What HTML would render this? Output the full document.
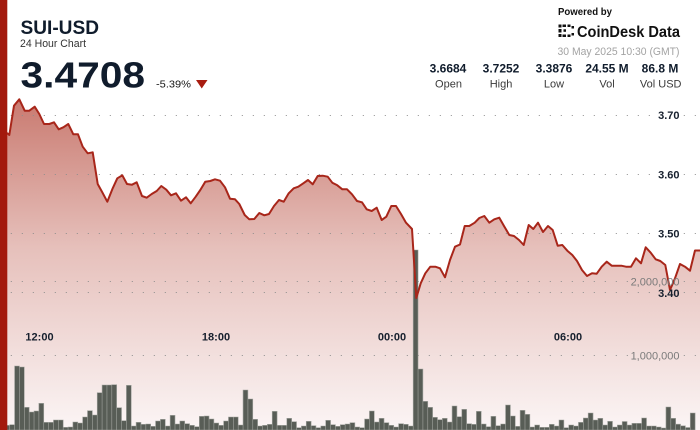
<!DOCTYPE html>
<html>
<head>
<meta charset="utf-8">
<style>
html,body{margin:0;padding:0;background:#fff;}
body{width:700px;height:430px;overflow:hidden;}
svg{display:block;font-family:"Liberation Sans",sans-serif;}
</style>
</head>
<body>
<svg width="700" height="430" viewBox="0 0 700 430" xmlns="http://www.w3.org/2000/svg">
<defs>
<linearGradient id="g" gradientUnits="userSpaceOnUse" x1="0" y1="99" x2="0" y2="430">
<stop offset="0" stop-color="#c97a70"/>
<stop offset="0.45" stop-color="#e6c0bb"/>
<stop offset="1" stop-color="#fbf5f5"/>
</linearGradient>
</defs>
<rect width="700" height="430" fill="#fff"/>

<path fill="url(#g)" d="M0,430 L0,132 L7.3,133.3 L9.3,135 L14,105.7 L19.3,99.3 L24.7,110.7 L29.3,110.7 L34.7,106.7 L39.3,114 L44,124 L49.3,124 L54,122.3 L58.7,129.3 L63.3,127.3 L68.3,124 L73.3,134.3 L78,134.3 L82.7,146.7 L87.7,153.3 L92.7,152.3 L97.7,184 L102,191.7 L107.3,201.7 L112.7,188.3 L117.3,178.3 L122.3,175.3 L127,184 L132,184.7 L136.7,182.3 L142,196 L146.7,197.7 L151.7,194 L156.7,191 L161.3,186 L166.3,189.7 L171,195.3 L176,193.3 L181,200.7 L186,197.3 L190.7,203.3 L195.7,196.7 L200.3,190 L205.3,181.7 L210.3,181 L215,179.3 L220,180.7 L225,187.3 L230,198.7 L235,199.3 L239.3,204 L244.7,215 L249.3,219.3 L254.3,219 L259.3,213 L264.3,215.3 L269,214 L274,206 L279,200 L283.7,201.7 L288.7,193.3 L293.7,188.3 L298.3,186.7 L303.3,183.3 L308,180 L312.7,184.3 L317.7,176 L322.7,175.7 L327.7,176.7 L332.3,182.7 L337.3,185.3 L342.3,189.3 L347,189.3 L352,194.3 L357,201 L362,202.3 L366.7,209.3 L371.7,211 L376.7,207.7 L381.7,220 L386.3,216.7 L391.3,206 L396,206 L401,214 L406,222.7 L412,229 L416.3,298 L420.7,283.3 L425.3,273.3 L430.3,266.7 L435.3,266.7 L440,268.3 L445,277.3 L450,260 L455,246.7 L460,244.5 L464.7,226 L469.3,226 L474.7,222.7 L479.3,218 L484.3,216 L489.3,222.7 L494.3,219.3 L499.3,217.7 L504,226 L509.3,235 L514,236 L519,240 L523.7,245 L528.7,225 L533.3,229 L538,222.7 L543,232 L548,226 L552.7,230 L557.7,245.7 L562.3,245 L567.3,250.7 L572.3,255 L577,261 L582,270 L587,276 L592,273.3 L596.7,273.7 L601.7,266.7 L606.7,261.7 L611.7,265.7 L616.3,265.7 L621.3,265.7 L626,266.7 L631,266.7 L636,258.3 L641,263.3 L645.7,247.3 L650.7,252.7 L655.7,259.3 L660.3,261 L665.3,265 L670,290 L675,278.3 L680,264 L685,266.7 L690,270.7 L695,250.5 L702,250.5 L702,430 Z"/>

<g stroke="#8d8d8d" stroke-width="1" stroke-dasharray="1 10">
<line x1="10.8" y1="115.5" x2="655" y2="115.5"/>
<line x1="683.8" y1="115.5" x2="700" y2="115.5"/>
<line x1="10.8" y1="174.5" x2="655" y2="174.5"/>
<line x1="683.8" y1="174.5" x2="700" y2="174.5"/>
<line x1="10.8" y1="233.5" x2="655" y2="233.5"/>
<line x1="683.8" y1="233.5" x2="700" y2="233.5"/>
<line x1="10.8" y1="292.5" x2="655" y2="292.5"/>
<line x1="683.8" y1="292.5" x2="700" y2="292.5"/>
<line x1="10.8" y1="281.5" x2="628" y2="281.5"/>
<line x1="683.8" y1="281.5" x2="700" y2="281.5"/>
<line x1="10.8" y1="355.5" x2="628" y2="355.5"/>
<line x1="683.8" y1="355.5" x2="700" y2="355.5"/>
</g>

<path fill="#585d56" stroke="#a3a5a0" stroke-width="0.6" d="M4.861,430
v-4.7h4.861v4.7 v-5.3h4.861v5.3 v-64h4.861v64 v-63h4.861v63 v-22.7h4.861v22.7
v-18h4.861v18 v-19h4.861v19 v-26.7h4.861v26.7 v-7.7h4.861v7.7 v-7.7h4.861v7.7
v-10h4.861v10 v-10h4.861v10 v-2.7h4.861v2.7 v-3h4.861v3 v-8h4.861v8
v-7h4.861v7 v-13h4.861v13 v-19.3h4.861v19.3 v-15h4.861v15 v-37.3h4.861v37.3
v-45h4.861v45 v-45h4.861v45 v-45.3h4.861v45.3 v-22.3h4.861v22.3 v-9.3h4.861v9.3
v-44.7h4.861v44.7 v-4h4.861v4 v-7.7h4.861v7.7 v-5.7h4.861v5.7 v-6h4.861v6
v-3.7h4.861v3.7 v-9h4.861v9 v-10.7h4.861v10.7 v-4h4.861v4 v-14.7h4.861v14.7
v-6h4.861v6 v-9h4.861v9 v-6.3h4.861v6.3 v-4.7h4.861v4.7 v-3.3h4.861v3.3
v-13.7h4.861v13.7 v-14h4.861v14 v-11h4.861v11 v-7h4.861v7 v-4.7h4.861v4.7
v-9h4.861v9 v-13h4.861v13 v-13h4.861v13 v-5h4.861v5 v-40h4.861v40
v-31h4.861v31 v-10.7h4.861v10.7 v-4h4.861v4 v-4.7h4.861v4.7 v-5.7h4.861v5.7
v-18.7h4.861v18.7 v-4.7h4.861v4.7 v-4.7h4.861v4.7 v-11.7h4.861v11.7 v-8.3h4.861v8.3
v-2.3h4.861v2.3 v-4h4.861v4 v-8.7h4.861v8.7 v-4.3h4.861v4.3 v-2.3h4.861v2.3
v-4h4.861v4 v-9.7h4.861v9.7 v-5.3h4.861v5.3 v-3.7h4.861v3.7 v-5.3h4.861v5.3
v-6h4.861v6 v-7.3h4.861v7.3 v-3h4.861v3 v-2.3h4.861v2.3 v-11h4.861v11
v-19h4.861v19 v-8h4.861v8 v-11.7h4.861v11.7 v-7.3h4.861v7.3 v-4.7h4.861v4.7
v-3h4.861v3 v-6.3h4.861v6.3 v-5.7h4.861v5.7 v-4h4.861v4 v-180h4.861v180
v-61h4.861v61 v-28.7h4.861v28.7 v-22.7h4.861v22.7 v-12.7h4.861v12.7 v-10.3h4.861v10.3
v-11.7h4.861v11.7 v-8h4.861v8 v-24h4.861v24 v-13.3h4.861v13.3 v-20.7h4.861v20.7
v-6.3h4.861v6.3 v-5.7h4.861v5.7 v-18.7h4.861v18.7 v-6h4.861v6 v-3.3h4.861v3.3
v-13.7h4.861v13.7 v-4.3h4.861v4.3 v-6h4.861v6 v-25h4.861v25 v-14h4.861v14
v-3.7h4.861v3.7 v-19.7h4.861v19.7 v-15.7h4.861v15.7 v-3h4.861v3 v-5h4.861v5
v-2.7h4.861v2.7 v-2.7h4.861v2.7 v-5.7h4.861v5.7 v-4h4.861v4 v-10h4.861v10
v-2.3h4.861v2.3 v-5h4.861v5 v-4h4.861v4 v-7.7h4.861v7.7 v-12h4.861v12
v-17h4.861v17 v-10h4.861v10 v-11.7h4.861v11.7 v-5h4.861v5 v-8.7h4.861v8.7
v-3h4.861v3 v-5h4.861v5 v-8.5h4.861v8.5 v-5h4.861v5 v-6.7h4.861v6.7
v-6.7h4.861v6.7 v-12h4.861v12 v-4h4.861v4 v-4h4.861v4 v-3h4.861v3
v-2h4.861v2 v-23h4.861v23 v-11.7h4.861v11.7 v-5.8h4.861v5.8 v-4.2h4.861v4.2
v-2.5h4.861v2.5 v-17h4.861v17 Z"/>

<path fill="none" stroke="#a8261a" stroke-width="2" stroke-linejoin="round" d="M0,132 L7.3,133.3 L9.3,135 L14,105.7 L19.3,99.3 L24.7,110.7 L29.3,110.7 L34.7,106.7 L39.3,114 L44,124 L49.3,124 L54,122.3 L58.7,129.3 L63.3,127.3 L68.3,124 L73.3,134.3 L78,134.3 L82.7,146.7 L87.7,153.3 L92.7,152.3 L97.7,184 L102,191.7 L107.3,201.7 L112.7,188.3 L117.3,178.3 L122.3,175.3 L127,184 L132,184.7 L136.7,182.3 L142,196 L146.7,197.7 L151.7,194 L156.7,191 L161.3,186 L166.3,189.7 L171,195.3 L176,193.3 L181,200.7 L186,197.3 L190.7,203.3 L195.7,196.7 L200.3,190 L205.3,181.7 L210.3,181 L215,179.3 L220,180.7 L225,187.3 L230,198.7 L235,199.3 L239.3,204 L244.7,215 L249.3,219.3 L254.3,219 L259.3,213 L264.3,215.3 L269,214 L274,206 L279,200 L283.7,201.7 L288.7,193.3 L293.7,188.3 L298.3,186.7 L303.3,183.3 L308,180 L312.7,184.3 L317.7,176 L322.7,175.7 L327.7,176.7 L332.3,182.7 L337.3,185.3 L342.3,189.3 L347,189.3 L352,194.3 L357,201 L362,202.3 L366.7,209.3 L371.7,211 L376.7,207.7 L381.7,220 L386.3,216.7 L391.3,206 L396,206 L401,214 L406,222.7 L412,229 L416.3,298 L420.7,283.3 L425.3,273.3 L430.3,266.7 L435.3,266.7 L440,268.3 L445,277.3 L450,260 L455,246.7 L460,244.5 L464.7,226 L469.3,226 L474.7,222.7 L479.3,218 L484.3,216 L489.3,222.7 L494.3,219.3 L499.3,217.7 L504,226 L509.3,235 L514,236 L519,240 L523.7,245 L528.7,225 L533.3,229 L538,222.7 L543,232 L548,226 L552.7,230 L557.7,245.7 L562.3,245 L567.3,250.7 L572.3,255 L577,261 L582,270 L587,276 L592,273.3 L596.7,273.7 L601.7,266.7 L606.7,261.7 L611.7,265.7 L616.3,265.7 L621.3,265.7 L626,266.7 L631,266.7 L636,258.3 L641,263.3 L645.7,247.3 L650.7,252.7 L655.7,259.3 L660.3,261 L665.3,265 L670,290 L675,278.3 L680,264 L685,266.7 L690,270.7 L695,250.5 L702,250.5"/>

<rect x="0" y="0" width="7.3" height="430" fill="#a3190d"/>

<g font-size="11" font-weight="bold" fill="#17202e" text-anchor="end">
<text x="679.5" y="119">3.70</text>
<text x="679.5" y="178.5">3.60</text>
<text x="679.5" y="237.5">3.50</text>
<text x="679.5" y="297">3.40</text>
</g>
<g font-size="11" fill="#7a7a7a" text-anchor="end">
<text x="679.5" y="285.5">2,000,000</text>
<text x="679.5" y="359.5">1,000,000</text>
</g>
<g font-size="11" font-weight="bold" fill="#17202e" text-anchor="middle">
<text x="39.5" y="340.7">12:00</text>
<text x="216" y="340.7">18:00</text>
<text x="392" y="340.7">00:00</text>
<text x="568" y="340.7">06:00</text>
</g>

<text x="20.5" y="34" font-size="19.5" font-weight="bold" fill="#101c2c" textLength="78.5" lengthAdjust="spacingAndGlyphs">SUI-USD</text>
<text x="20" y="47" font-size="11" fill="#333" textLength="66" lengthAdjust="spacingAndGlyphs">24 Hour Chart</text>
<text x="20.5" y="87.3" font-size="36" font-weight="bold" fill="#101c2c" textLength="124.5" lengthAdjust="spacingAndGlyphs">3.4708</text>
<text x="156" y="87.5" font-size="10.5" fill="#151515" textLength="35" lengthAdjust="spacingAndGlyphs">-5.39%</text>
<polygon points="196,80 207.5,80 201.75,88.5" fill="#a81c10"/>

<text x="558" y="15" font-size="10" font-weight="bold" fill="#111" textLength="54" lengthAdjust="spacingAndGlyphs">Powered by</text>
<g fill="#111">
<rect x="558.5" y="24.5" width="3" height="3"/>
<rect x="558.5" y="29" width="3" height="3.5"/>
<rect x="558.5" y="34" width="3" height="3"/>
<rect x="562.5" y="24.5" width="3.5" height="2.5"/>
<rect x="562.5" y="34.5" width="3.5" height="2.5"/>
<rect x="563.5" y="29.3" width="2.5" height="2.5"/>
<rect x="567.5" y="24.5" width="3" height="2.5"/>
<rect x="567.5" y="34.5" width="3" height="2.5"/>
<rect x="571.5" y="26" width="2.5" height="2.5"/>
<rect x="571.5" y="33" width="2.5" height="2.5"/>
</g>
<text x="577" y="37" font-size="16" font-weight="bold" fill="#111" textLength="103" lengthAdjust="spacingAndGlyphs">CoinDesk Data</text>
<text x="679.5" y="55" font-size="11" fill="#a3a3a3" text-anchor="end" textLength="122" lengthAdjust="spacingAndGlyphs">30 May 2025 10:30 (GMT)</text>

<g font-size="12" font-weight="bold" fill="#101c2c" text-anchor="middle">
<text x="448" y="72.7">3.6684</text>
<text x="501" y="72.7">3.7252</text>
<text x="554" y="72.7">3.3876</text>
<text x="607" y="72.7">24.55 M</text>
<text x="660" y="72.7">86.8 M</text>
</g>
<g font-size="11" fill="#3a3a3a" text-anchor="middle">
<text x="448.5" y="87.3">Open</text>
<text x="501" y="87.3">High</text>
<text x="554" y="87.3">Low</text>
<text x="607" y="87.3">Vol</text>
<text x="660.7" y="87.3">Vol USD</text>
</g>
</svg>
</body>
</html>
